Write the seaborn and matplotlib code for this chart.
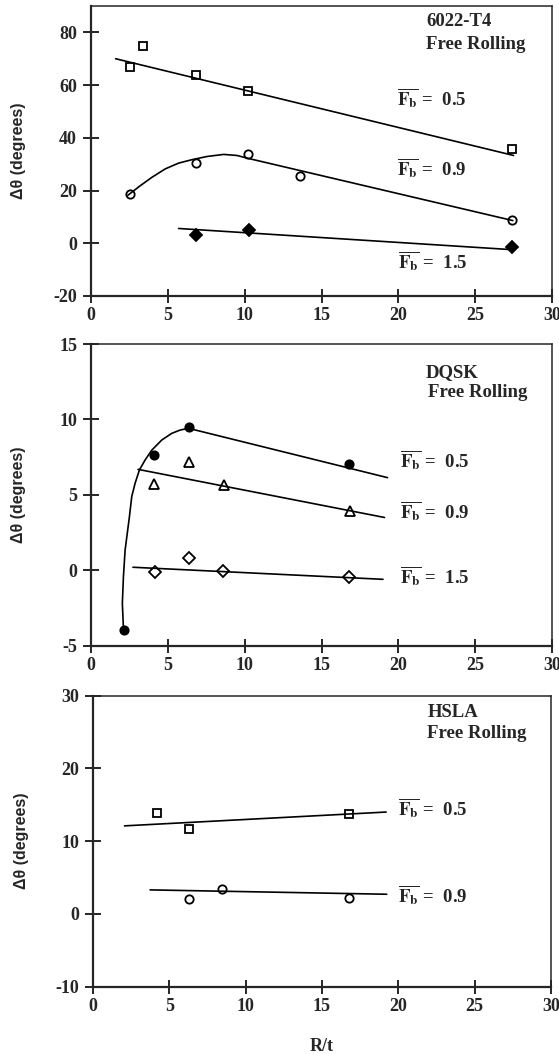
import numpy as np
import pandas as pd
import seaborn as sns
import matplotlib.pyplot as plt

# 6022-T4 panel
a_x_05 = [2.55, 3.4, 6.8, 10.2, 27.4]
a_y_05 = [66.8, 74.8, 63.8, 57.7, 35.7]
a_fit_x_05 = [1.6, 27.5]
a_fit_y_05 = [70.0, 33.3]

a_x_09 = [2.55, 6.8, 10.2, 13.6, 27.4]
a_y_09 = [18.5, 30.4, 33.7, 25.4, 9.0]
a_fit_x_09 = [2.4, 3.2, 3.96, 4.83, 5.7, 6.57, 7.54, 8.63, 9.5, 10.15, 27.45]
a_fit_y_09 = [18.2, 21.8, 25.0, 28.2, 30.4, 31.7, 32.9, 33.7, 33.3, 32.3, 8.6]

a_x_15 = [6.8, 10.3, 27.4]
a_y_15 = [3.2, 5.0, -1.3]
a_fit_x_15 = [5.7, 27.3]
a_fit_y_15 = [5.6, -2.4]

# DQSK panel
b_x_05 = [2.15, 4.12, 6.37, 16.8]
b_y_05 = [-3.95, 7.65, 9.5, 7.05]
b_fit_x_05 = [2.11, 2.04, 2.11, 2.22, 2.5, 2.65, 2.87, 3.15, 3.52, 3.96, 4.61, 5.26, 5.81, 6.35, 19.3]
b_fit_y_05 = [-3.85, -2.19, -0.42, 1.35, 3.55, 4.88, 5.77, 6.65, 7.31, 7.97, 8.64, 9.08, 9.3, 9.41, 6.14]

b_x_09 = [4.12, 6.37, 8.63, 16.85]
b_y_09 = [5.74, 7.18, 5.65, 3.92]
b_fit_x_09 = [3.06, 19.1]
b_fit_y_09 = [6.69, 3.5]

b_x_15 = [4.17, 6.37, 8.56, 16.8]
b_y_15 = [-0.13, 0.82, -0.07, -0.44]
b_fit_x_15 = [2.73, 19.0]
b_fit_y_15 = [0.2, -0.6]

# HSLA panel
c_x_05 = [4.17, 6.28, 16.8]
c_y_05 = [13.8, 11.7, 13.75]
c_fit_x_05 = [2.06, 19.2]
c_fit_y_05 = [12.1, 14.0]

c_x_09 = [6.27, 8.48, 16.8]
c_y_09 = [2.0, 3.47, 2.24]
c_fit_x_09 = [3.74, 19.24]
c_fit_y_09 = [3.3, 2.7]

x_ticks = [0, 5, 10, 15, 20, 25, 30]

sns.set_style("ticks")
plt.rcParams['font.family'] = ['Liberation Serif', 'DejaVu Serif']
plt.rcParams['font.weight'] = 'bold'
plt.rcParams['mathtext.fontset'] = 'stix'
plt.rcParams['axes.unicode_minus'] = False

fig = plt.figure(figsize=(5.59, 10.54), dpi=100)
ax1 = fig.add_axes([0.1628, 0.7192, 0.8247, 0.2751])
ax2 = fig.add_axes([0.1628, 0.3874, 0.8247, 0.2862])
ax3 = fig.add_axes([0.1664, 0.0639, 0.8193, 0.2761])

line_kw = dict(color='black', linewidth=1.2, estimator=None, sort=False)


def pts(ax, x, y, marker, filled, ms):
    sns.lineplot(x=x, y=y, ax=ax, marker=marker, linestyle='', color='black',
                 markersize=ms, markeredgewidth=1.3, markeredgecolor='black',
                 markerfacecolor='black' if filled else 'none',
                 estimator=None, sort=False)


def fb_label(ax, x, y, val):
    ax.text(x, y, r'$\mathbf{\overline{F_b}}$' + ' =  ' + val, fontsize=13.5,
            fontweight='bold', va='center', ha='left')


def title(ax, x, y1, y2, name):
    ax.text(x, y1, name, fontsize=13.5, fontweight='bold', va='center')
    ax.text(x, y2, 'Free Rolling', fontsize=13.5, fontweight='bold', va='center')


# panel 1
sns.lineplot(x=a_fit_x_05, y=a_fit_y_05, ax=ax1, **line_kw)
sns.lineplot(x=a_fit_x_09, y=a_fit_y_09, ax=ax1, **line_kw)
sns.lineplot(x=a_fit_x_15, y=a_fit_y_15, ax=ax1, **line_kw)
pts(ax1, a_x_05, a_y_05, 's', False, 6)
pts(ax1, a_x_09, a_y_09, 'o', False, 6)
pts(ax1, a_x_15, a_y_15, 'D', True, 6)
ax1.set_ylim(-20, 90)
ax1.set_yticks([-20, 0, 20, 40, 60, 80])
title(ax1, 21.8, 84, 75.3, '6022-T4')
fb_label(ax1, 19.9, 55, '0.5')
fb_label(ax1, 19.9, 28.3, '0.9')
fb_label(ax1, 20.0, -6.9, '1.5')

# panel 2
sns.lineplot(x=b_fit_x_05, y=b_fit_y_05, ax=ax2, **line_kw)
sns.lineplot(x=b_fit_x_09, y=b_fit_y_09, ax=ax2, **line_kw)
sns.lineplot(x=b_fit_x_15, y=b_fit_y_15, ax=ax2, **line_kw)
pts(ax2, b_x_05, b_y_05, 'o', True, 6)
pts(ax2, b_x_09, b_y_09, '^', False, 7)
pts(ax2, b_x_15, b_y_15, 'D', False, 6)
ax2.set_ylim(-5, 15)
ax2.set_yticks([-5, 0, 5, 10, 15])
ax2.text(21.8, 13.1, 'DQSK', fontsize=13.5, fontweight='bold', va='center')
ax2.text(21.9, 11.8, 'Free Rolling', fontsize=13.5, fontweight='bold', va='center')
fb_label(ax2, 20.1, 7.3, '0.5')
fb_label(ax2, 20.1, 3.9, '0.9')
fb_label(ax2, 20.1, -0.4, '1.5')

# panel 3
sns.lineplot(x=c_fit_x_05, y=c_fit_y_05, ax=ax3, **line_kw)
sns.lineplot(x=c_fit_x_09, y=c_fit_y_09, ax=ax3, **line_kw)
pts(ax3, c_x_05, c_y_05, 's', False, 6)
pts(ax3, c_x_09, c_y_09, 'o', False, 6)
ax3.set_ylim(-10, 30)
ax3.set_yticks([-10, 0, 10, 20, 30])
title(ax3, 21.9, 27.75, 24.8, 'HSLA')
fb_label(ax3, 20.0, 14.5, '0.5')
fb_label(ax3, 20.0, 2.6, '0.9')
ax3.set_xlabel('R/t', fontsize=13, fontweight='bold', labelpad=17)

for ax in [ax1, ax2, ax3]:
    ax.set_xlim(0, 30)
    ax.set_xticks(x_ticks)
    ax.tick_params(axis='y', direction='inout', length=12, width=1.4, labelsize=13, pad=4)
    ax.tick_params(axis='x', direction='inout', length=10, width=1.4, labelsize=13, pad=3)
    for s in ['left', 'bottom']:
        ax.spines[s].set_linewidth(1.6)
    for s in ['top', 'right']:
        ax.spines[s].set_linewidth(1.1)
    ax.set_ylabel('Δθ (degrees)', fontsize=11.5, fontweight='bold',
                  family=['Liberation Sans', 'DejaVu Sans'])
    ax.yaxis.set_label_coords(-0.14, 0.5)
    if ax is not ax3:
        ax.set_xlabel('')

plt.savefig('out.png', dpi=100)
